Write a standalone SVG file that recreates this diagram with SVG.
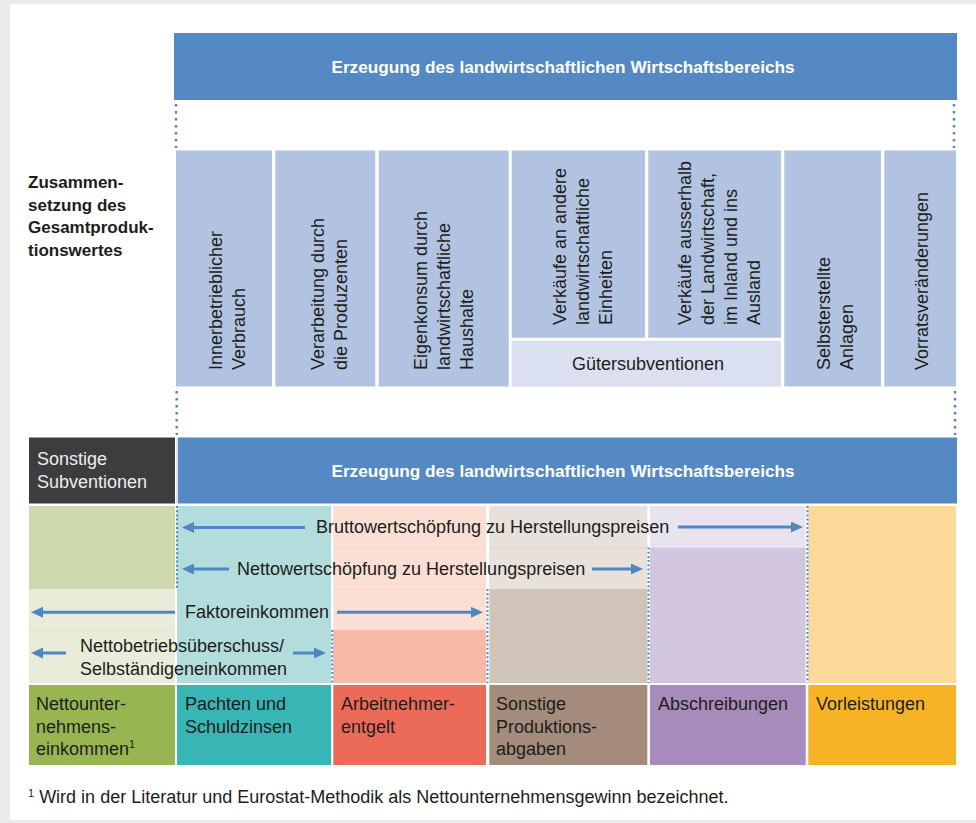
<svg xmlns="http://www.w3.org/2000/svg" width="976" height="823" viewBox="0 0 976 823">
<defs>
<marker id="ah" markerWidth="12" markerHeight="11" refX="1" refY="5.5" orient="auto" markerUnits="userSpaceOnUse"><path d="M0,0 L12,5.5 L0,11 z" fill="#4f87c4"/></marker>
<style>
.t{font-family:"Liberation Sans",Arial,sans-serif;font-size:18px;fill:#1d1d1b}
.hb{font-family:"Liberation Sans",Arial,sans-serif;font-size:17.2px;font-weight:bold;fill:#ffffff}
.lb{font-family:"Liberation Sans",Arial,sans-serif;font-size:17px;font-weight:bold;fill:#1d1d1b}
.arrow{stroke:#4f87c4;stroke-width:3;fill:none;marker-end:url(#ah)}
.dot{stroke:#4f87c4;stroke-width:2.5;stroke-dasharray:2.5 4.5;fill:none}
.dot2{stroke:#4f87c4;stroke-width:2;stroke-dasharray:2 2.2;fill:none}
.col{fill:#b1c3e0}
.bar{fill:#5489c3}
.sep{stroke:#ffffff;stroke-opacity:0.35;stroke-width:1}
</style>
</defs>
<rect x="0" y="0" width="976" height="823" fill="#e9ecea"/>
<rect x="10" y="4" width="966" height="816" fill="#ffffff"/>

<g id="title-left">
<text class="lb" x="28" y="188">Zusammen-</text>
<text class="lb" x="28" y="210.5">setzung des</text>
<text class="lb" x="28" y="233">Gesamtproduk-</text>
<text class="lb" x="28" y="255.5">tionswertes</text>
</g>

<g id="header-top">
<rect class="bar" x="174" y="33" width="783" height="67"/>
<text class="hb" x="563" y="73" text-anchor="middle">Erzeugung des landwirtschaftlichen Wirtschaftsbereichs</text>
</g>

<g id="col-innerbetrieblich">
<rect class="col" x="176" y="150.5" width="96" height="236"/>
<text class="t" transform="translate(222,370) rotate(-90)">Innerbetrieblicher</text>
<text class="t" transform="translate(245,370) rotate(-90)">Verbrauch</text>
</g>
<g id="col-verarbeitung">
<rect class="col" x="275.3" y="150.5" width="100" height="236"/>
<text class="t" transform="translate(324,370) rotate(-90)">Verarbeitung durch</text>
<text class="t" transform="translate(347,370) rotate(-90)">die Produzenten</text>
</g>
<g id="col-eigenkonsum">
<rect class="col" x="378.7" y="150.5" width="130" height="236"/>
<text class="t" transform="translate(427,370) rotate(-90)">Eigenkonsum durch</text>
<text class="t" transform="translate(450,370) rotate(-90)">landwirtschaftliche</text>
<text class="t" transform="translate(473,370) rotate(-90)">Haushalte</text>
</g>
<g id="col-verkaeufe-andere">
<rect class="col" x="511.7" y="150.5" width="133.3" height="187.2"/>
<text class="t" transform="translate(566,325) rotate(-90)">Verkäufe an andere</text>
<text class="t" transform="translate(589,325) rotate(-90)">landwirtschaftliche</text>
<text class="t" transform="translate(612,325) rotate(-90)">Einheiten</text>
</g>
<g id="col-verkaeufe-ausserhalb">
<rect class="col" x="648.3" y="150.5" width="132.7" height="187.2"/>
<text class="t" transform="translate(691,325) rotate(-90)">Verkäufe ausserhalb</text>
<text class="t" transform="translate(714,325) rotate(-90)">der Landwirtschaft,</text>
<text class="t" transform="translate(737,325) rotate(-90)">im Inland und ins</text>
<text class="t" transform="translate(760,325) rotate(-90)">Ausland</text>
</g>
<g id="guetersubventionen">
<rect x="511.7" y="340.7" width="269.3" height="46" fill="#dae0ef"/>
<text class="t" x="648" y="370" text-anchor="middle">Gütersubventionen</text>
</g>
<g id="col-selbsterstellte">
<rect class="col" x="784.3" y="150.5" width="96.7" height="236"/>
<text class="t" transform="translate(830,370) rotate(-90)">Selbsterstellte</text>
<text class="t" transform="translate(853,370) rotate(-90)">Anlagen</text>
</g>
<g id="col-vorrat">
<rect class="col" x="884.3" y="150.5" width="71.7" height="236"/>
<text class="t" transform="translate(928,370) rotate(-90)">Vorratsveränderungen</text>
</g>

<g id="sonstige-subventionen">
<rect x="29" y="437.5" width="146" height="66" fill="#3d3d40"/>
<text class="t" x="37" y="465" fill="#ececec" style="fill:#ececec">Sonstige</text>
<text class="t" x="37" y="488" style="fill:#ececec">Subventionen</text>
</g>
<g id="header-bottom">
<rect x="176.5" y="437.5" width="1" height="66" fill="#c8c8c8"/>
<rect class="bar" x="178" y="437.5" width="779" height="66"/>
<text class="hb" x="563" y="477" text-anchor="middle">Erzeugung des landwirtschaftlichen Wirtschaftsbereichs</text>
</g>

<g id="grid">
<rect x="29" y="506" width="146" height="83" fill="#cdd9ac"/>
<rect x="29" y="589" width="146" height="94" fill="#e8ecd8"/>
<line class="sep" x1="29" y1="630" x2="175" y2="630" style="stroke:#dfe4cc;stroke-opacity:1"/>
<rect x="177" y="506" width="154" height="177" fill="#b3dcdc"/>
<rect x="333.3" y="506" width="152.7" height="124" fill="#fbdfd5"/>
<rect x="333.3" y="630" width="152.7" height="53" fill="#f7b9a6"/>
<line x1="333.3" y1="547.5" x2="486" y2="547.5" stroke="#f6d4c9" stroke-width="1"/>
<line x1="333.3" y1="589" x2="486" y2="589" stroke="#f6d4c9" stroke-width="1"/>
<rect x="489.3" y="506" width="158" height="83" fill="#e7e0db"/>
<rect x="489.3" y="589" width="158" height="94" fill="#d0c4b9"/>
<line x1="489.3" y1="547.5" x2="647.3" y2="547.5" stroke="#ddd5cf" stroke-width="1"/>
<rect x="650" y="506" width="155.7" height="41.5" fill="#e8e3ef"/>
<rect x="650" y="547.5" width="155.7" height="135.5" fill="#d3c6df"/>
<rect x="808.3" y="506" width="147.7" height="177" fill="#fcd899"/>
</g>

<g id="guides">
<line class="dot" x1="176" y1="104" x2="176" y2="148"/>
<line class="dot" x1="954" y1="104" x2="954" y2="148"/>
<line class="dot" x1="176.7" y1="391" x2="176.7" y2="435"/>
<line class="dot" x1="955" y1="391" x2="955" y2="435"/>
<line class="dot2" x1="177" y1="506" x2="177" y2="589"/>
<line class="dot2" x1="332.3" y1="630" x2="332.3" y2="683"/>
<line class="dot2" x1="487.5" y1="589" x2="487.5" y2="683"/>
<line class="dot2" x1="648.5" y1="547.5" x2="648.5" y2="683"/>
<line class="dot2" x1="807.5" y1="506" x2="807.5" y2="683"/>
</g>

<g id="connectors">
<line class="arrow" x1="305" y1="527.5" x2="193" y2="527.5"/>
<line class="arrow" x1="678" y1="527" x2="792" y2="527"/>
<line class="arrow" x1="229" y1="569" x2="193" y2="569"/>
<line class="arrow" x1="592" y1="569" x2="632" y2="569"/>
<line class="arrow" x1="175" y1="612.3" x2="42" y2="612.3"/>
<line class="arrow" x1="337" y1="612.3" x2="472" y2="612.3"/>
<line class="arrow" x1="66" y1="653" x2="42" y2="653"/>
<line class="arrow" x1="293" y1="653" x2="315" y2="653"/>
</g>

<g id="labels-middle">
<text class="t" x="316" y="533">Bruttowertschöpfung zu Herstellungspreisen</text>
<text class="t" x="237" y="575">Nettowertschöpfung zu Herstellungspreisen</text>
<text class="t" x="185" y="618">Faktoreinkommen</text>
<text class="t" x="80" y="652">Nettobetriebsüberschuss/</text>
<text class="t" x="80" y="674.5">Selbständigeneinkommen</text>
</g>

<g id="nettounternehmenseinkommen">
<rect x="29" y="685" width="146" height="80" fill="#97b551"/>
<text class="t" x="36" y="710">Nettounter-</text>
<text class="t" x="36" y="732.5">nehmens-</text>
<text class="t" x="36" y="755">einkommen<tspan font-size="11" dy="-7">1</tspan></text>
</g>
<g id="pachten">
<rect x="177" y="685" width="154" height="80" fill="#38b5b5"/>
<text class="t" x="185" y="710">Pachten und</text>
<text class="t" x="185" y="732.5">Schuldzinsen</text>
</g>
<g id="arbeitnehmerentgelt">
<rect x="333.3" y="685" width="152.7" height="80" fill="#ec6b58"/>
<text class="t" x="341" y="710">Arbeitnehmer-</text>
<text class="t" x="341" y="732.5">entgelt</text>
</g>
<g id="produktionsabgaben">
<rect x="489.3" y="685" width="158" height="80" fill="#a38c7b"/>
<text class="t" x="496" y="710">Sonstige</text>
<text class="t" x="496" y="732.5">Produktions-</text>
<text class="t" x="496" y="755">abgaben</text>
</g>
<g id="abschreibungen">
<rect x="650" y="685" width="155.7" height="80" fill="#a68bbb"/>
<text class="t" x="658" y="710">Abschreibungen</text>
</g>
<g id="vorleistungen">
<rect x="808.3" y="685" width="147.7" height="80" fill="#f6b325"/>
<text class="t" x="816" y="710">Vorleistungen</text>
</g>

<g id="footnote">
<text class="t" x="28" y="803"><tspan font-size="11" dy="-6">1</tspan><tspan dy="6"> Wird in der Literatur und Eurostat-Methodik als Nettounternehmensgewinn bezeichnet.</tspan></text>
</g>
</svg>
